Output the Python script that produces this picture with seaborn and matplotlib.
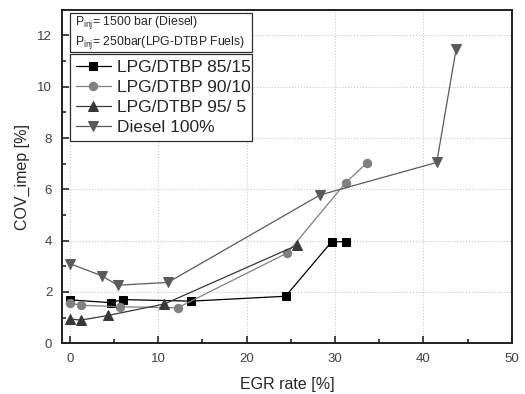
import pandas as pd
import matplotlib
matplotlib.use('Agg')
import matplotlib.pyplot as plt
import seaborn as sns
from matplotlib.ticker import MultipleLocator
from matplotlib.patches import Rectangle

# data
egr_85 = [0.0, 4.6, 6.0, 13.7, 24.4, 29.6, 31.2]
cov_85 = [1.69, 1.58, 1.70, 1.64, 1.83, 3.95, 3.96]
egr_90 = [0.0, 1.3, 5.7, 12.2, 24.6, 31.2, 33.6]
cov_90 = [1.56, 1.48, 1.42, 1.38, 3.52, 6.26, 7.03]
egr_95 = [0.0, 1.25, 4.3, 10.7, 25.7]
cov_95 = [0.94, 0.90, 1.08, 1.53, 3.82]
egr_diesel = [0.0, 3.6, 5.4, 11.1, 28.3, 41.5, 43.7]
cov_diesel = [3.10, 2.63, 2.26, 2.37, 5.78, 7.05, 11.49]

series = [
    ('LPG/DTBP 85/15', egr_85, cov_85, 's', '#000000', 5.5),
    ('LPG/DTBP 90/10', egr_90, cov_90, 'o', '#808080', 6),
    ('LPG/DTBP 95/ 5', egr_95, cov_95, '^', '#383838', 7),
    ('Diesel 100%', egr_diesel, cov_diesel, 'v', '#5a5a5a', 7.5),
]

sns.set_style('ticks')
plt.rcParams['font.family'] = ['Liberation Sans', 'DejaVu Sans']

fig = plt.figure(figsize=(5.25, 3.94), dpi=100)
ax = fig.add_axes([0.118, 0.129, 0.857, 0.846])

for name, x, y, m, c, ms in series:
    df = pd.DataFrame({'x': x, 'y': y})
    sns.lineplot(data=df, x='x', y='y', ax=ax, marker=m, color=c, markersize=ms,
                 markeredgecolor=c, linewidth=0.9, label=name, sort=False)

ax.set_xlim(-0.9, 50)
ax.set_ylim(0, 13)
ax.xaxis.set_major_locator(MultipleLocator(10))
ax.xaxis.set_minor_locator(MultipleLocator(5))
ax.yaxis.set_major_locator(MultipleLocator(2))
ax.yaxis.set_minor_locator(MultipleLocator(1))
ax.tick_params(which='both', direction='in', labelsize=9.5, labelcolor='#404040', width=1.2)
ax.tick_params(which='major', length=5, pad=7)
ax.tick_params(which='minor', length=3)
ax.grid(True, which='major', linestyle=':', color='#c8c8c8', linewidth=0.8)
for s in ax.spines.values():
    s.set_linewidth(1.4)
    s.set_color('#202020')

ax.set_xlabel('EGR rate [%]', fontsize=11.5, labelpad=9)
ax.set_ylabel('COV_imep [%]', fontsize=11.5, labelpad=5)

# injection pressure note box
ax.add_patch(Rectangle((0.018, 0.874), 0.404, 0.117, transform=ax.transAxes,
                       facecolor='white', edgecolor='#303030', linewidth=0.9, zorder=5))
ax.text(0.03, 0.962, '$\\mathregular{P_{inj}}$= 1500 bar (Diesel)',
        transform=ax.transAxes, ha='left', va='center', fontsize=8.8, zorder=6)
ax.text(0.03, 0.902, '$\\mathregular{P_{inj}}$= 250bar(LPG-DTBP Fuels)',
        transform=ax.transAxes, ha='left', va='center', fontsize=8.8, zorder=6)

leg = ax.legend(loc='upper left', bbox_to_anchor=(0.018, 0.4, 0.404, 0.468), mode='expand',
                fontsize=12.5, frameon=True, fancybox=False, edgecolor='#303030',
                handlelength=2.0, borderpad=0.35, labelspacing=0.28, handletextpad=0.35,
                borderaxespad=0, framealpha=1)
leg.get_frame().set_linewidth(0.9)

fig.savefig('out.png', dpi=100)
